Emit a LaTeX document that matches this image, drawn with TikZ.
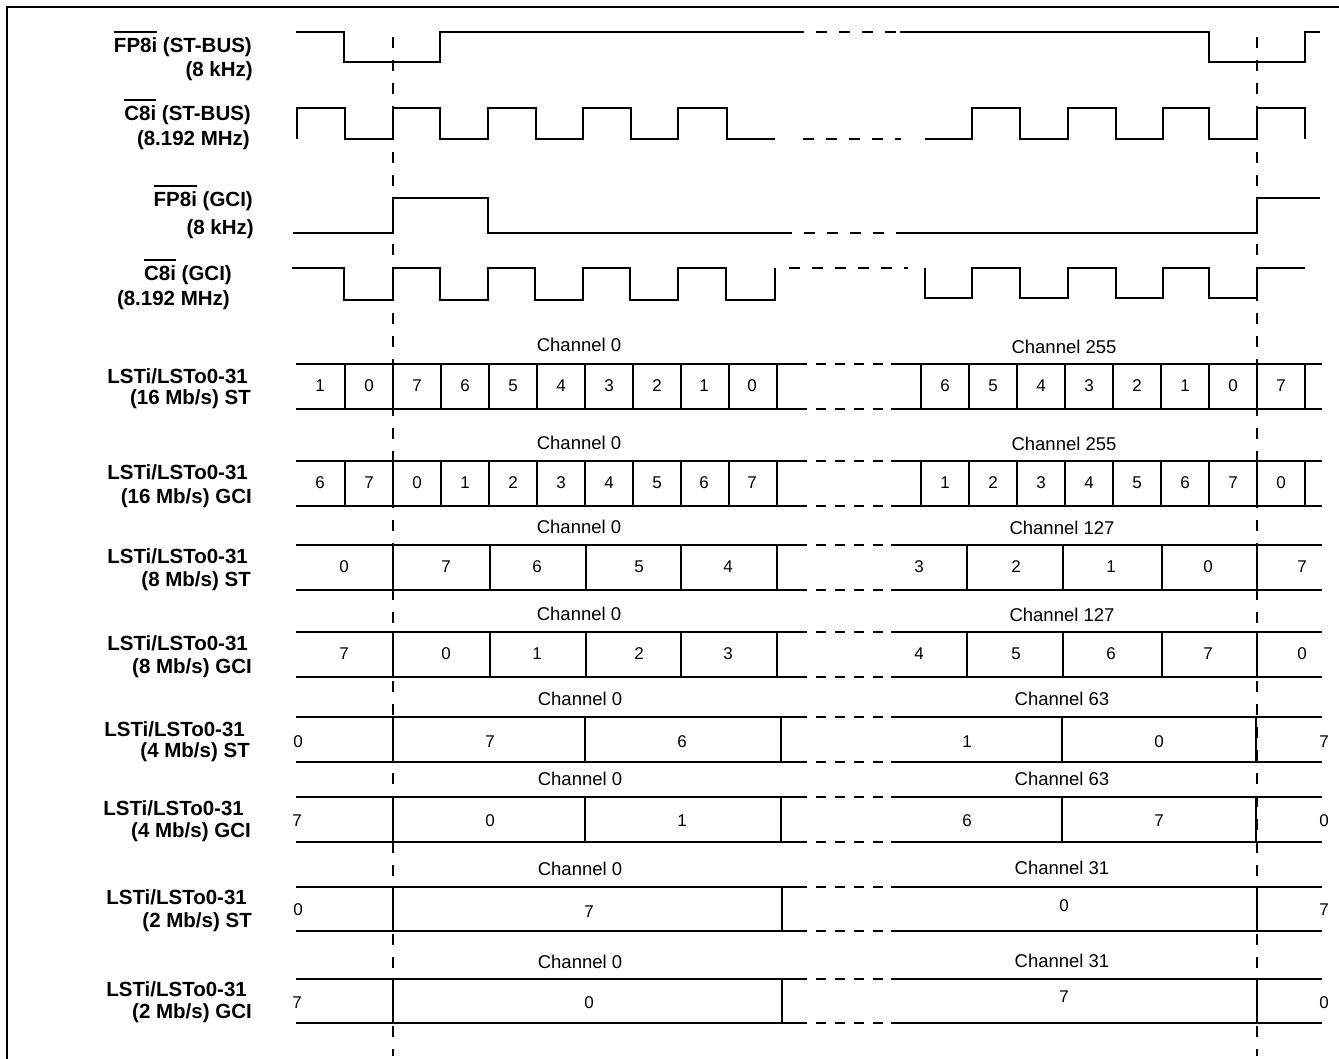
\documentclass[tikz,border=0pt]{standalone}
\usepackage{fontspec}
\setmainfont{Liberation Sans}
\newcommand\ovbar[1]{\vbox{\hrule height 2pt\kern 5pt\hbox{#1}}}
\newcommand\rowlines[2]{%
  \draw[cell] (296,#1) -- (807,#1) (891,#1) -- (1322,#1) (296,#2) -- (807,#2) (891,#2) -- (1322,#2);
  \draw[cell,gapd] (807,#1) -- (891,#1) (807,#2) -- (891,#2);}
\begin{document}
\begin{tikzpicture}[x=1pt,y=-1pt,
  sig/.style={line width=2pt},
  cell/.style={line width=2pt},
  gapd/.style={dash pattern=on 10pt off 9pt,dash phase=10pt},
  sgap/.style={line width=2pt,dash pattern=on 11pt off 12pt,dash phase=11pt},
  sdash/.style={line width=2pt,dash pattern=on 11pt off 12pt},
  vdash/.style={line width=2pt,dash pattern=on 11pt off 12pt},
  lbl/.style={font=\bfseries\fontsize{20.5}{22}\selectfont,anchor=base east,inner sep=0pt},
  chan/.style={font=\fontsize{18.5}{20}\selectfont,inner sep=0pt},
  dig/.style={font=\fontsize{17}{19}\selectfont,inner sep=0pt}]
\useasboundingbox (0,0) rectangle (1339,1059);
% frame
\draw[line width=2.4pt] (7,1059) -- (7,7) -- (1339,7);
% signal labels
\node[lbl] (fpst1) at (252,53) {\ovbar{FP8i} (ST-BUS)};
\node[lbl] (fpst2) at (253,77) {(8 kHz)};
\node[lbl] (cst1) at (251,121) {\ovbar{C8i} (ST-BUS)};
\node[lbl] (cst2) at (250,146) {(8.192 MHz)};
\node[lbl] (fpg1) at (253,207) {\ovbar{FP8i} (GCI)};
\node[lbl] (fpg2) at (254,235) {(8 kHz)};
\node[lbl] (cg1) at (232,281) {\ovbar{C8i} (GCI)};
\node[lbl] (cg2) at (230,306) {(8.192 MHz)};
% data labels
\node[lbl] (ls1a) at (248,383) {LSTi/LSTo0-31};
\node[lbl] (ls1b) at (251,404) {(16 Mb/s) ST};
\node[lbl] (ls2a) at (248,479) {LSTi/LSTo0-31};
\node[lbl] (ls2b) at (252,503) {(16 Mb/s) GCI};
\node[lbl] (ls3a) at (248,563) {LSTi/LSTo0-31};
\node[lbl] (ls3b) at (251,586) {(8 Mb/s) ST};
\node[lbl] (ls4a) at (248,650) {LSTi/LSTo0-31};
\node[lbl] (ls4b) at (252,673) {(8 Mb/s) GCI};
\node[lbl] (ls5a) at (245,736) {LSTi/LSTo0-31};
\node[lbl] (ls5b) at (250,757) {(4 Mb/s) ST};
\node[lbl] (ls6a) at (244,815) {LSTi/LSTo0-31};
\node[lbl] (ls6b) at (251,837) {(4 Mb/s) GCI};
\node[lbl] (ls7a) at (247,904) {LSTi/LSTo0-31};
\node[lbl] (ls7b) at (252,927) {(2 Mb/s) ST};
\node[lbl] (ls8a) at (247,996) {LSTi/LSTo0-31};
\node[lbl] (ls8b) at (252,1018) {(2 Mb/s) GCI};
% FP8i ST-BUS
\draw[sig] (296,32) -- (344,32) -- (344,62) -- (440,62) -- (440,32) -- (804,32);
\draw[sgap] (804,32) -- (900,32);
\draw[sig] (900,32) -- (1209,32) -- (1209,62) -- (1305,62) -- (1305,32) -- (1320,32);
% C8i ST-BUS
\draw[sig] (297,139) -- (297,108) -- (345,108) -- (345,139) -- (393,139) -- (393,108)
  -- (440,108) -- (440,139) -- (488,139) -- (488,108) -- (536,108) -- (536,139)
  -- (583,139) -- (583,108) -- (631,108) -- (631,139) -- (678,139) -- (678,108)
  -- (727,108) -- (727,139) -- (775,139);
\draw[sdash] (803,139) -- (901,139);
\draw[sig] (925,139) -- (972,139) -- (972,108) -- (1020,108) -- (1020,139) -- (1068,139)
  -- (1068,108) -- (1116,108) -- (1116,139) -- (1163,139) -- (1163,108) -- (1209,108)
  -- (1209,139) -- (1257,139) -- (1257,108) -- (1305,108) -- (1305,139);
% FP8i GCI
\draw[sig] (293,233) -- (393,233) -- (393,198) -- (488,198) -- (488,233) -- (792,233);
\draw[sgap] (792,233) -- (900,233);
\draw[sig] (900,233) -- (1257,233) -- (1257,198) -- (1320,198);
% C8i GCI
\draw[sig] (292,268) -- (344,268) -- (344,300) -- (393,300) -- (393,268) -- (440,268)
  -- (440,300) -- (488,300) -- (488,268) -- (535,268) -- (535,300) -- (583,300)
  -- (583,268) -- (630,268) -- (630,300) -- (678,300) -- (678,268) -- (726,268)
  -- (726,300) -- (775,300) -- (775,268);
\draw[sdash] (789,268) -- (908,268);
\draw[sig] (925,268) -- (925,298) -- (972,298) -- (972,268) -- (1020,268) -- (1020,298)
  -- (1068,298) -- (1068,268) -- (1116,268) -- (1116,298) -- (1163,298) -- (1163,268)
  -- (1209,268) -- (1209,298) -- (1257,298) -- (1257,268) -- (1305,268);
% reference dashed verticals
\draw[vdash] (393,37) -- (393,1056);
\draw[vdash] (1257,37) -- (1257,1056);
% ---------- data rows ----------
\rowlines{364}{409}
\rowlines{461}{506}
\rowlines{545}{590}
\rowlines{632}{677}
\rowlines{717}{762}
\rowlines{797}{842}
\rowlines{887}{931}
\rowlines{979}{1023}
% 16 Mb/s verticals
\foreach \x in {345,393,441,489,537,585,633,681,729,777,921,969,1017,1065,1113,1161,1209,1257,1305}{
  \draw[cell] (\x,364) -- (\x,409);
  \draw[cell] (\x,461) -- (\x,506);}
% 8 Mb/s verticals
\foreach \x in {393,490,586,681,777,967,1063,1162,1257}{
  \draw[cell] (\x,545) -- (\x,590);
  \draw[cell] (\x,632) -- (\x,677);}
% 4 Mb/s verticals
\foreach \x in {393,585,781,1062,1256}{
  \draw[cell] (\x,717) -- (\x,762);
  \draw[cell] (\x,797) -- (\x,842);}
% 2 Mb/s verticals
\foreach \x in {393,782,1257}{
  \draw[cell] (\x,887) -- (\x,931);
  \draw[cell] (\x,979) -- (\x,1023);}
% channel labels
\node[chan] (ch1a) at (579,345) {Channel 0};
\node[chan] (ch1b) at (1064,347) {Channel 255};
\node[chan] (ch2a) at (579,443) {Channel 0};
\node[chan] (ch2b) at (1064,444) {Channel 255};
\node[chan] (ch3a) at (579,527) {Channel 0};
\node[chan] (ch3b) at (1062,528) {Channel 127};
\node[chan] (ch4a) at (579,614) {Channel 0};
\node[chan] (ch4b) at (1062,615) {Channel 127};
\node[chan] (ch5a) at (580,699) {Channel 0};
\node[chan] (ch5b) at (1062,699) {Channel 63};
\node[chan] (ch6a) at (580,779) {Channel 0};
\node[chan] (ch6b) at (1062,779) {Channel 63};
\node[chan] (ch7a) at (580,869) {Channel 0};
\node[chan] (ch7b) at (1062,868) {Channel 31};
\node[chan] (ch8a) at (580,962) {Channel 0};
\node[chan] (ch8b) at (1062,961) {Channel 31};
% digits 16 Mb/s ST
\foreach \x/\d [count=\i] in {320/1,369/0,417/7,465/6,513/5,561/4,609/3,657/2,704/1,752/0,
  945/6,993/5,1041/4,1089/3,1137/2,1185/1,1233/0,1281/7}
  \node[dig] (da\i) at (\x,386) {\d};
% digits 16 Mb/s GCI
\foreach \x/\d [count=\i] in {320/6,369/7,417/0,465/1,513/2,561/3,609/4,657/5,704/6,752/7,
  945/1,993/2,1041/3,1089/4,1137/5,1185/6,1233/7,1281/0}
  \node[dig] (db\i) at (\x,483) {\d};
% digits 8 Mb/s ST
\foreach \x/\d [count=\i] in {344/0,446/7,537/6,639/5,728/4,919/3,1016/2,1111/1,1208/0,1302/7}
  \node[dig] (dc\i) at (\x,567) {\d};
% digits 8 Mb/s GCI
\foreach \x/\d [count=\i] in {344/7,446/0,537/1,639/2,728/3,919/4,1016/5,1111/6,1208/7,1302/0}
  \node[dig] (dd\i) at (\x,654) {\d};
% digits 4 Mb/s ST
\foreach \x/\d [count=\i] in {298/0,490/7,682/6,967/1,1159/0,1324/7}
  \node[dig] (de\i) at (\x,742) {\d};
% digits 4 Mb/s GCI
\foreach \x/\d [count=\i] in {297/7,490/0,682/1,967/6,1159/7,1324/0}
  \node[dig] (df\i) at (\x,821) {\d};
% digits 2 Mb/s ST
\node[dig] (dg1) at (298,910) {0};
\node[dig] (dg2) at (589,912) {7};
\node[dig] (dg3) at (1064,906) {0};
\node[dig] (dg4) at (1324,910) {7};
% digits 2 Mb/s GCI
\node[dig] (dh1) at (297,1003) {7};
\node[dig] (dh2) at (589,1003) {0};
\node[dig] (dh3) at (1064,997) {7};
\node[dig] (dh4) at (1324,1003) {0};
\end{tikzpicture}
\end{document}
